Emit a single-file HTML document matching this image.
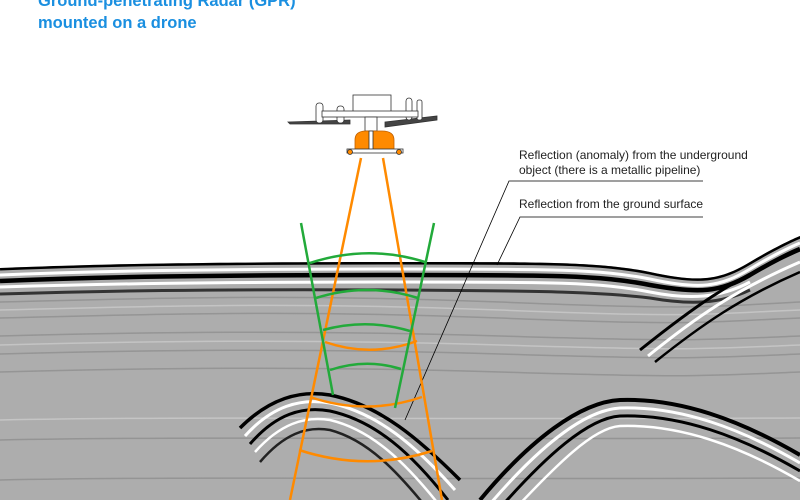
<!DOCTYPE html>
<html><head><meta charset="utf-8"><style>
html,body{margin:0;padding:0;background:#fff;width:800px;height:500px;overflow:hidden}
</style></head><body>
<svg width="800" height="500" viewBox="0 0 800 500" xmlns="http://www.w3.org/2000/svg">
<defs>
<clipPath id="g"><path d="M0,268 C100,264 200,262 400,262 C550,262 600,262 650,272 C700,283 720,280 750,262 C770,250 790,240 800,236 L800,500 L0,500 Z"/></clipPath>
</defs>
<path d="M0,268 C100,264 200,262 400,262 C550,262 600,262 650,272 C700,283 720,280 750,262 C770,250 790,240 800,236 L800,500 L0,500 Z" fill="#adadad"/>
<g clip-path="url(#g)" fill="none">
  <g stroke="#8a8a8a" stroke-width="1.5" opacity="0.7">
    <path d="M0,302 C150,298 300,294 500,302 S700,307 800,302"/>
    <path d="M0,318 C150,314 300,310 500,318 S700,322 800,318"/>
    <path d="M0,336 C150,332 300,330 500,336 S700,340 800,336"/>
    <path d="M0,354 C150,350 300,348 500,354 S700,358 800,354"/>
    <path d="M0,372 C150,368 300,366 500,372 S700,376 800,372"/>
    <path d="M0,440 C200,436 400,440 800,438"/>
    <path d="M0,480 C200,476 400,480 800,478"/>
  </g>
  <g stroke="#cacaca" stroke-width="1.5" opacity="0.8">
    <path d="M0,310 C150,306 300,302 500,310 S700,314 800,310"/>
    <path d="M0,345 C150,341 300,339 500,345 S700,349 800,345"/>
    <path d="M0,420 C200,416 400,420 800,418"/>
  </g>
  <path d="M0,268 C100,264 200,262 400,262 C550,262 600,262 650,272 C700,283 720,280 750,262 C770,250 790,240 800,236" stroke="#000" stroke-width="5"/>
  <path d="M0,275 C100,271 200,269 400,269 C550,269 600,269 650,279 C700,290 720,287 750,269 C770,257 790,247 800,243" stroke="#fff" stroke-width="3"/>
  <path d="M0,281 C100,277 200,275 400,275 C550,275 600,275 650,285 C700,294 720,292 750,275 C770,263 790,253 800,249" stroke="#000" stroke-width="4.5"/>
  <path d="M0,287 C100,284 200,282 400,282 C550,282 600,282 650,292 C690,300 720,298 750,282" stroke="#fff" stroke-width="3"/>
  <path d="M0,294 C100,291 200,289 400,290 C550,291 600,292 650,298 C690,305 720,304 750,290" stroke="#333" stroke-width="3"/>
  <path d="M640,350 C690,310 730,280 800,250" stroke="#000" stroke-width="3"/>
  <path d="M648,356 C695,318 735,290 800,262" stroke="#fff" stroke-width="3"/>
  <path d="M655,362 C700,326 740,298 800,272" stroke="#000" stroke-width="2.5"/>
  <path d="M240,428 C270,398 300,390 330,395 C380,405 420,440 460,480" stroke="#000" stroke-width="3.5"/>
  <path d="M245,436 C272,406 300,398 330,403 C378,413 416,446 455,490" stroke="#fff" stroke-width="3"/>
  <path d="M250,444 C276,414 302,406 330,411 C376,421 412,454 448,500" stroke="#000" stroke-width="3"/>
  <path d="M255,452 C280,424 304,416 330,420 C372,430 405,462 440,506" stroke="#fff" stroke-width="2.5"/>
  <path d="M260,462 C284,434 306,426 330,430 C368,440 398,472 430,512" stroke="#222" stroke-width="2.5"/>
  <path d="M480,500 C530,440 580,402 620,400 C680,398 740,420 800,455" stroke="#000" stroke-width="4"/>
  <path d="M490,504 C538,448 584,410 620,408 C680,406 740,428 800,463" stroke="#fff" stroke-width="3"/>
  <path d="M500,508 C546,456 588,418 620,416 C680,414 740,436 800,471" stroke="#000" stroke-width="3"/>
  <path d="M512,512 C556,466 592,428 620,426 C680,424 740,446 800,481" stroke="#fff" stroke-width="2.5"/>
</g>
<g stroke="#000" stroke-width="0.8" fill="none">
  <path d="M703,181 L509,181 L405,420"/>
  <path d="M703,217 L520,217 L497,265"/>
</g>
<text x="519" y="159" font-family="Liberation Sans, sans-serif" font-size="12" fill="#222">Reflection (anomaly) from the underground</text>
<text x="519" y="174" font-family="Liberation Sans, sans-serif" font-size="12" fill="#222">object (there is a metallic pipeline)</text>
<text x="519" y="208" font-family="Liberation Sans, sans-serif" font-size="12" fill="#222">Reflection from the ground surface</text>
<g fill="none" stroke="#ff8a00" stroke-width="2.5">
  <path d="M361,158 L290,500"/>
  <path d="M383,158 L442,500"/>
  <path d="M325,342 Q371,358 417,341"/>
  <path d="M310,397 Q366,416 422,397"/>
  <path d="M299,450 Q366,472 432,451"/>
</g>
<g fill="none" stroke="#22aa3a" stroke-width="2.5">
  <path d="M301,223 L333,395"/>
  <path d="M434,223 L395,408"/>
  <path d="M310,263 Q368,244 425,262"/>
  <path d="M316,298 Q367,282 418,298"/>
  <path d="M323,330 Q367,318 410,331"/>
  <path d="M330,370 Q366,358 401,369"/>
</g>
<g stroke="#333" stroke-width="0.8" fill="#fff">
  <path d="M288,122 L350,120 L350,124 L290,124 Z" fill="#444"/>
  <path d="M385,122 L437,116 L437,120 L385,127 Z" fill="#444"/>
  <rect x="353" y="95" width="38" height="21"/>
  <rect x="316" y="103" width="7" height="20" rx="3"/>
  <rect x="337" y="106" width="7" height="17" rx="3"/>
  <rect x="406" y="98" width="6" height="22" rx="3"/>
  <rect x="417" y="100" width="5" height="20" rx="2"/>
  <rect x="322" y="111" width="96" height="6"/>
  <rect x="365" y="117" width="12" height="14"/>
  <path d="M355,152 L355,140 Q355,131 366,131 L382,131 Q394,131 394,140 L394,152 Z" fill="#ff8a00" stroke="#c06000"/>
  <rect x="369" y="131" width="4" height="20" fill="#fff"/>
  <rect x="347" y="149" width="56" height="4" fill="#fff"/>
  <circle cx="350" cy="152" r="2.5" fill="#ff8a00"/>
  <circle cx="399" cy="152" r="2.5" fill="#ff8a00"/>
</g>
<text x="38" y="6" font-family="Liberation Sans, sans-serif" font-size="16.5" font-weight="bold" fill="#1a8fe0">Ground-penetrating Radar (GPR)</text>
<text x="38" y="28" font-family="Liberation Sans, sans-serif" font-size="16.5" font-weight="bold" fill="#1a8fe0">mounted on a drone</text>
</svg>
</body></html>
